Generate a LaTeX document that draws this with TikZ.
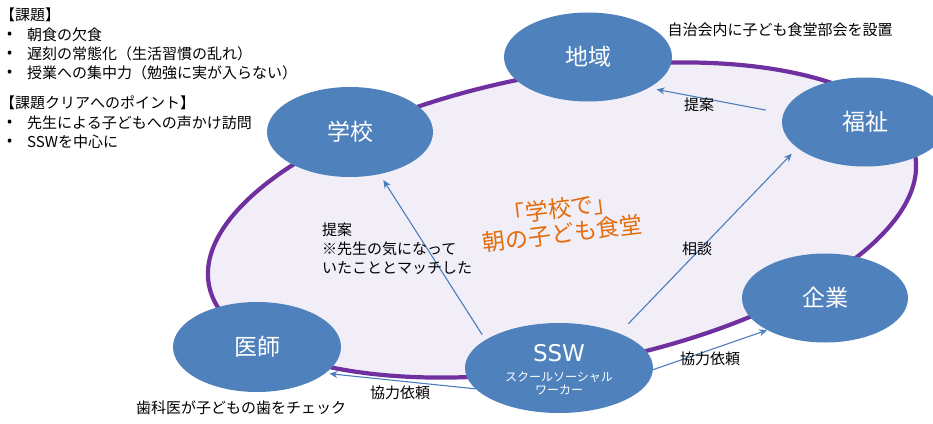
\documentclass[tikz,border=0pt]{standalone}
\usepackage{fontspec}
\setmainfont{Noto Sans CJK JP}
\newfontfamily\sswfont{DejaVu Sans}
\usetikzlibrary{shapes.geometric,arrows.meta}
\definecolor{nodeblue}{RGB}{79,129,189}
\definecolor{arrowblue}{RGB}{74,126,187}
\definecolor{ringpurple}{RGB}{112,48,160}
\definecolor{ringfill}{RGB}{241,238,247}
\definecolor{textorange}{RGB}{228,108,10}
\begin{document}
\begin{tikzpicture}[x=1pt,y=-1pt,
  blob/.style={ellipse, fill=nodeblue, text=white, inner sep=0pt, font=\fontsize{23}{27}\selectfont},
  arr/.style={draw=arrowblue, line width=1.1pt, -{Stealth[length=8pt,width=7pt]}},
  lbl/.style={font=\fontsize{15}{19}\selectfont, inner sep=0pt},
  lst/.style={font=\fontsize{15}{19}\selectfont, inner sep=0pt, anchor=west},
]
\useasboundingbox (0,0) rectangle (933,423);
\begin{scope}
\clip (0,0) rectangle (933,423);
% ring
\draw[ringpurple, line width=4.2pt, fill=ringfill, rotate around={10.4:(562,220)}]
  (562,220) ellipse [x radius=359pt, y radius=146pt];
% nodes
\node[blob, minimum width=168pt, minimum height=89pt] (region) at (588,57) {地域};
\node[blob, minimum width=166pt, minimum height=89pt] (welfare) at (865,122) {福祉};
\node[blob, minimum width=166pt, minimum height=90pt] (school) at (350,132) {学校};
\node[blob, minimum width=166pt, minimum height=89pt] (company) at (825,298) {企業};
\node[blob, minimum width=168pt, minimum height=90pt] (doctor) at (257,347) {医師};
\node[blob, minimum width=188pt, minimum height=90pt] (ssw) at (559,368) {};
\node[text=white, inner sep=0pt, font=\sswfont\fontsize{23}{26}\selectfont] (sswtitle) at (559,353) {SSW};
\node[text=white, inner sep=0pt, align=center, font=\fontsize{12}{13}\selectfont] (sswsub) at (559,383.5) {スクールソーシャル\\ワーカー};
\end{scope}
% connectors
\draw[arr, shorten <=6pt, shorten >=7pt] (ssw.159) -- (school.-55.5);
\draw[arr, shorten <=13pt, shorten >=8pt] (ssw.30) -- (welfare.-159.8);
\draw[arr] (ssw.-1) -- (company.-151.5);
\draw[arr, shorten >=4pt] (ssw.194) -- (doctor.-21.5);
\draw[arr, shorten <=18pt, shorten >=8pt] (welfare.174.9) -- (region.-27.6);
% labels
\node[lbl] (lblsetup) at (780,30) {自治会内に子ども食堂部会を設置};
\node[lbl] (lblprop) at (699,105) {提案};
\node[lbl] (lblcons) at (697,249) {相談};
\node[lbl] (lblcoop1) at (710,359) {協力依頼};
\node[lbl] (lblcoop2) at (400,393) {協力依頼};
\node[lbl] (lbldent) at (241,408) {歯科医が子どもの歯をチェック};
\node[lbl, anchor=north west, align=left] (lblschool) at (322,223) {提案\\※先生の気になって\\いたこととマッチした};
\node[text=textorange, inner sep=0pt, align=center, rotate=7, font=\fontsize{23}{25}\selectfont] (title) at (561,221) {「学校で」\\朝の子ども食堂};
% top-left list
\node[lst] (h1) at (0,15) {【課題】};
\node[lst] (d1) at (7,35) {•};
\node[lst] (t1) at (27,35) {朝食の欠食};
\node[lst] (d2) at (7,54) {•};
\node[lst] (t2) at (27,54) {遅刻の常態化（生活習慣の乱れ）};
\node[lst] (d3) at (7,73) {•};
\node[lst] (t3) at (27,73) {授業への集中力（勉強に実が入らない）};
\node[lst] (h2) at (0,103) {【課題クリアへのポイント】};
\node[lst] (d4) at (7,123) {•};
\node[lst] (t4) at (27,123) {先生による子どもへの声かけ訪問};
\node[lst] (d5) at (7,142) {•};
\node[lst] (t5) at (27,142) {SSWを中心に};
\end{tikzpicture}
\end{document}
